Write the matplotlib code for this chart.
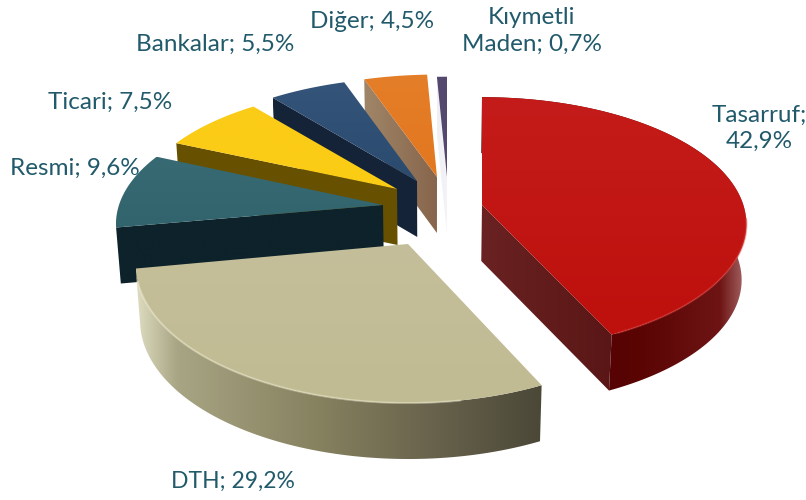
import numpy as np
import matplotlib
matplotlib.use('Agg')
import matplotlib.pyplot as plt
from matplotlib.patches import Polygon
from matplotlib.colors import to_rgb

categories = ['Tasarruf', 'DTH', 'Resmi', 'Ticari', 'Bankalar', 'Diğer', 'Kıymetli Maden']
values = [42.9, 29.2, 9.6, 7.5, 5.5, 4.5, 0.7]

# pie layout, pixels
CX, CY = 433, 205
RX, RY = 264, 124
PERSP = 0.15
DEPTH = 56
explode = [(49, 0), (-25, 39), (-50, 0), (-36, -16), (-16, -24), (4, -28), (14, -28)]
# per slice stretch of the ellipse (x, y)
stretch = [(0.99, 1.0), (1.02, 1.09), (1.0, 1.0), (0.975, 0.95), (0.98, 0.96), (0.98, 0.95), (1.0, 0.93)]

# top colours (back edge, front edge)
top_cols = [('#C41C1A', '#BE100D'), ('#C4BF9A', '#C0BB92'), ('#386A74', '#32646E'),
            ('#FBCC18', '#FBCC14'), ('#34547A', '#2A4A6E'), ('#E57E28', '#E27820'),
            ('#54486E', '#54486E')]
# cut face gradient (left, right)
cut_cols = [('#6A2222', '#5A1616'), None, ('#0D222A', '#0D222A'), ('#675100', '#675100'),
            ('#152338', '#152338'), ('#A08668', '#87654C'), ('#F0F0F4', '#F4F4F8')]
red_side = [(0.0, '#4C0000'), (0.6, '#5A0404'), (0.9, '#6E1414'), (1.0, '#A86A6A')]
dth_side = [(0.0, '#DEDCC0'), (0.1, '#A8A584'), (0.45, '#86815F'), (0.7, '#6C664F'), (1.0, '#4B4838')]
# rim highlight: colour, part of the arc that faces the viewer
rims = [('#D83A36', 95, 154), ('#EFEBD0', 170, 255), None, None, None, None, None]
text_col = '#215A6B'


def project(theta, tip, scale=(1.0, 1.0)):
    t = np.radians(theta)
    u, v = np.sin(t), np.cos(t)
    w = 1 + PERSP * v
    return tip[0] + scale[0] * RX * u / w, tip[1] - scale[1] * RY * v / w


def drop(x, y):
    # bottom edge sits a little inward because of the perspective
    return CX + (np.asarray(x) - CX) * 0.985, np.asarray(y) + DEPTH


def gradient(ax, pts, stops, vertical=False, z=1):
    xs, ys = zip(*pts)
    x0, x1, y0, y1 = min(xs), max(xs), min(ys), max(ys)
    pos = np.linspace(0, 1, 256)
    where, cols = zip(*stops)
    rgb = np.array([to_rgb(c) for c in cols])
    img = np.stack([np.interp(pos, where, rgb[:, i]) for i in range(3)], axis=-1)
    img = img[:, None, :] if vertical else img[None, :, :]
    im = ax.imshow(img, extent=(x0, x1, y1, y0), origin='upper', aspect='auto',
                   interpolation='bilinear', zorder=z)
    poly = Polygon(pts, closed=True, transform=ax.transData, fc='none', ec='none')
    ax.add_patch(poly)
    im.set_clip_path(poly)


fig = plt.figure(figsize=(8.06, 5.0), dpi=100)
ax = fig.add_axes([0, 0, 1, 1])

total = sum(values)
edges = np.concatenate([[0], np.cumsum(values)]) / total * 360
tips = [(CX + dx, CY + dy) for dx, dy in explode]

# back slices first, the two big front ones last
for i in [6, 5, 4, 3, 2, 1, 0]:
    start, end = edges[i], edges[i + 1]
    tip = tips[i]
    th = np.linspace(start, end, 120)
    ax_x, ax_y = project(th, tip, stretch[i])
    top = [tip] + list(zip(ax_x, ax_y))
    bx, by = drop(ax_x, ax_y)
    tbx, tby = drop(tip[0], tip[1])

    if i <= 1:
        side = list(zip(ax_x, ax_y)) + list(zip(bx[::-1], by[::-1]))
        gradient(ax, side, red_side if i == 0 else dth_side, z=2 * (10 - i))

    if i == 0:
        # end edge faces the viewer on the big red slice
        cut = [tip, (ax_x[-1], ax_y[-1]), (bx[-1], by[-1]), (float(tbx), float(tby))]
    elif i > 1:
        cut = [tip, (ax_x[0], ax_y[0]), (bx[0], by[0]), (float(tbx), float(tby))]
    else:
        cut = None
    if cut is not None:
        gradient(ax, cut, [(0, cut_cols[i][0]), (1, cut_cols[i][1])], z=2 * (10 - i))

    gradient(ax, top, [(0, top_cols[i][0]), (1, top_cols[i][1])], vertical=True, z=2 * (10 - i) + 1)
    if rims[i]:
        col, a0, a1 = rims[i]
        keep = (th >= a0) & (th <= a1)
        ax.plot(ax_x[keep], ax_y[keep], color=col, lw=1.5, alpha=0.45,
                zorder=2 * (10 - i) + 1.5, solid_capstyle='round')

ax.set_xlim(0, 806)
ax.set_ylim(500, 0)
ax.axis('off')


def label(i):
    return f"{categories[i]}; {values[i]:.1f}%".replace('.', ',')


font = dict(family='Lato', fontsize=17.5, color=text_col, ha='center', va='center')
ax.text(759, 128, label(0).replace('; ', ';\n'), linespacing=1.3, **font)
ax.text(233, 481, label(1), **{**font, 'fontsize': 16.5})
ax.text(75, 168, label(2), **font)
ax.text(110, 102, label(3), **font)
ax.text(215, 44, label(4), **font)
ax.text(372, 21, label(5), **font)
ax.text(532, 31, label(6).replace('Kıymetli ', 'Kıymetli\n'), linespacing=1.3, **font)

fig.savefig('out.png', dpi=100)
